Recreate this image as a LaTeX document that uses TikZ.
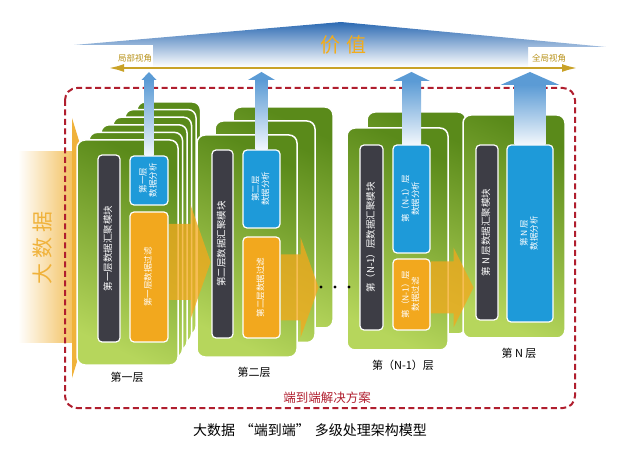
\documentclass[tikz,border=0pt]{standalone}
\usepackage{fontspec}
\usepackage{graphicx}
\setmainfont{Noto Sans CJK SC}
\usepackage{tikz}
\usetikzlibrary{
    calc,
    positioning,
    arrows.meta
}
\definecolor{topblue}{HTML}{2C6AB3}
\definecolor{arrowblue}{HTML}{5B9BD5}
\definecolor{gold}{HTML}{C9A227}
\definecolor{goldtext}{HTML}{B8921A}
\definecolor{valueorange}{HTML}{F2AC1C}
\definecolor{bigorange}{HTML}{F0B23A}
\definecolor{floworange}{HTML}{F4A81C}
\definecolor{greendark}{HTML}{5A8A1A}
\definecolor{greenlight}{HTML}{B6D65C}
\definecolor{modulegray}{HTML}{3D3D45}
\definecolor{analysisblue}{HTML}{1E9AD9}
\definecolor{filterorange}{HTML}{F2A81E}
\definecolor{solutionred}{HTML}{B01E2E}
\renewcommand{\arraystretch}{0.95}
\newcommand{\vtext}[1]{\rotatebox{90}{\begin{tabular}{@{}c@{}}#1\end{tabular}}}
\newcommand{\valuearrow}[4]{%
    \path (#1.north |- tips) coordinate (tip#1);
    \shade[top color=arrowblue, bottom color=arrowblue!8] ($(tip#1)+(-#2,#4)$) rectangle ($(#1.north)+(#2,0)$);
    \fill[arrowblue] ($(tip#1)+(-#3,#4)$) -- (tip#1) -- ($(tip#1)+(#3,#4)$) -- cycle;}
\newcommand{\flowarrow}[6]{%
    \fill[flow] ($(#1.east)+(0,#2-#5)$) -- ++(#3,0) -- ++(0,#5-#6) -- ++(#4,#6) -- ++(-#4,#6) -- ++(0,#5-#6) -- ++(-#3,0) -- cycle;}
\pgfdeclarelayer{background}
\pgfdeclarelayer{flowlayer}
\pgfsetlayers{background,flowlayer,main}

\begin{document}
\begin{tikzpicture}[x=1pt,y=-1pt,font=\fontsize{9}{10}\selectfont]
    \tikzstyle{layer}=[draw=white, line width=1.5pt, rounded corners=8pt, top color=greendark, bottom color=greenlight, shading angle=-25]
    \tikzstyle{module}=[draw=white, line width=1.2pt, rounded corners=4pt, inner sep=0pt, text=white, font=\fontsize{8.5}{10}\selectfont]
    \tikzstyle{collect}=[module, fill=modulegray, font=\fontsize{9.5}{11}\selectfont]
    \tikzstyle{analysis}=[module, fill=analysisblue]
    \tikzstyle{filter}=[module, fill=filterorange]
    \tikzstyle{flow}=[fill=floworange, fill opacity=0.75]
    \tikzstyle{level}=[font=\fontsize{11}{13}\selectfont]
    \tikzstyle{solution}=[draw=solutionred, line width=2pt, dash pattern=on 6pt off 3.5pt, rounded corners=12pt]
    \useasboundingbox (0,0) rectangle (640,454);
    \begin{pgfonlayer}{background}
    \shade[top color=topblue, bottom color=white] (74,45) -- (341,22) -- (606,47) -- (528,47) -- (528,67) -- (153,67) -- (153,45) -- cycle;
    \shade[left color=white, right color=bigorange!85] (18,152) rectangle (76,343);
    \fill[bigorange] (72,118) -- (112,248) -- (72,378) -- cycle;
    \draw[solution] (65,88) rectangle (575,408);
    \foreach \k in {5,4,...,1}
        \path[layer] (77+12*\k,140-7.6*\k) rectangle (178+4.5*\k,365-7.6*\k);
    \node[layer, minimum width=101, minimum height=225] (l1) at (127.5,252.5) {};
    \foreach \k in {2,1}
        \path[layer] (197+18*\k,135-14*\k) rectangle (297+18*\k,357-14.5*\k);
    \node[layer, minimum width=100, minimum height=222] (l2) at (247,246) {};
    \path[layer] (367,112) rectangle (466,334);
    \node[layer, minimum width=101, minimum height=222] (l3) at (397.5,239) {};
    \node[layer, minimum width=102, minimum height=223] (l4) at (514,226.5) {};
    \end{pgfonlayer}

    \node[text=valueorange, font=\fontsize{20}{22}\selectfont] (value) at (343,45) {价\hspace{6pt}值};
    \node[text=goldtext, font=\fontsize{8.5}{10}\selectfont] (local) at (135,58) {局部视角};
    \node[text=goldtext, font=\fontsize{8.5}{10}\selectfont] (global) at (549,58) {全局视角};
    \coordinate (vl) at (108,68);
    \coordinate (vr) at (578,68);
    \coordinate (tips) at (0,72);
    \draw[gold, line width=2.5pt, {Latex[length=16pt,width=8pt]}-{Latex[length=16pt,width=8pt]}] (vl) -- (vr);
    \node[text=bigorange, font=\fontsize{21}{22}\selectfont] (bigdata) at (43,248) {\rotatebox{90}{大\hspace{5pt}数\hspace{5pt}据}};

    \node[collect, minimum width=22, minimum height=187] (c1) at (109,248.5) {\vtext{第一层数据汇聚模块}};
    \node[analysis, minimum width=38, minimum height=49] (a1) at (149,180.5) {\vtext{第一层\\数据分析}};
    \node[filter, minimum width=38, minimum height=130] (f1) at (149,277) {\vtext{第一层数据过滤}};
    \node[collect, minimum width=21, minimum height=188] (c2) at (222.5,244) {\vtext{第二层数据汇聚模块}};
    \node[analysis, minimum width=37, minimum height=78] (a2) at (261.5,189) {\vtext{第二层\\数据分析}};
    \node[filter, minimum width=37, minimum height=101] (f2) at (261.5,287.5) {\vtext{第二层数据过滤}};
    \node[collect, minimum width=23, minimum height=185] (c3) at (371.5,237.5) {\vtext{第（N-1）层数据汇聚模块}};
    \node[analysis, minimum width=37, minimum height=108] (a3) at (411.5,199) {\vtext{第（N-1）层\\数据分析}};
    \node[filter, minimum width=37, minimum height=71] (f3) at (411.5,294.5) {\vtext{第（N-1）层\\数据过滤}};
    \node[collect, minimum width=22, minimum height=175] (c4) at (487,232.5) {\vtext{第 N 层数据汇聚模块}};
    \node[analysis, minimum width=46, minimum height=177] (a4) at (530,233.5) {\vtext{第 N 层\\数据分析}};

    \begin{pgfonlayer}{flowlayer}
    \flowarrow{f1}{-15}{22}{20}{38}{57}
    \flowarrow{f2}{0}{20}{18}{33}{50}
    \flowarrow{f3}{-7}{23}{20}{26}{40}
    \end{pgfonlayer}

    \valuearrow{a1}{4.5}{7.5}{8}
    \valuearrow{a2}{6}{13.5}{8}
    \valuearrow{a3}{9.5}{18.5}{9}
    \valuearrow{a4}{15.5}{29.5}{13}

    \foreach \x in {321,335,349}
        \fill (\x,287) circle (1.6pt);

    \node[level] (n1) at (127,377) {第一层};
    \node[level] (n2) at (254,372) {第二层};
    \node[level] (n3) at (403,365) {第（N-1）层};
    \node[level] (n4) at (519,353) {第 N 层};
    \node[text=solutionred, font=\fontsize{12.5}{14}\selectfont] (sol) at (327,398) {端到端解决方案};
    \node[font=\fontsize{14}{16}\selectfont] (caption) at (310,430) {大数据\hspace{5pt}“端到端”\hspace{5pt}多级处理架构模型};
\end{tikzpicture}
\end{document}
